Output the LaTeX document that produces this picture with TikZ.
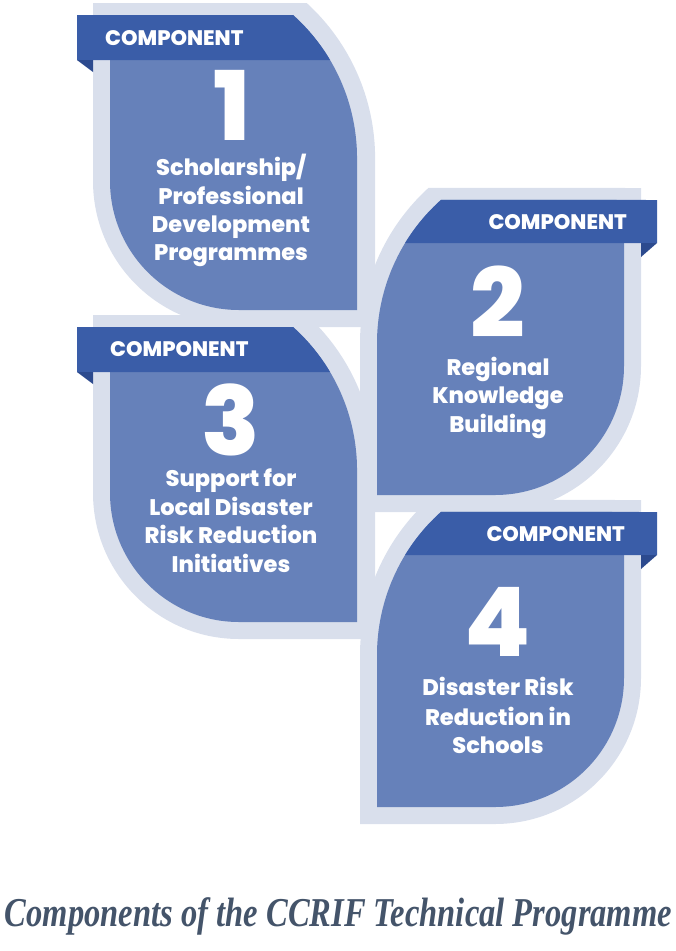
\documentclass[tikz,border=0pt]{standalone}
\usepackage{fontspec}
\usepackage{graphicx}
\setmainfont{Poppins}[BoldFont={Poppins ExtraBold}]
\newfontfamily\capfont{Liberation Serif}
\definecolor{lightc}{HTML}{D9DFEC}
\definecolor{mainc}{HTML}{6681BA}
\definecolor{ribbonc}{HTML}{3A5DA8}
\definecolor{foldc}{HTML}{2C4A8E}
\definecolor{capc}{HTML}{44546A}
\begin{document}
\begin{tikzpicture}[x=1pt,y=-1pt,
  lightshape/.style={fill=lightc},
  mainshape/.style={fill=mainc},
  ribbon/.style={fill=ribbonc},
  foldshape/.style={fill=foldc},
  bantext/.style={text=white,inner sep=0,text height=15pt,text depth=0pt,font=\bfseries\fontsize{21}{22}\selectfont},
  numtext/.style={text=white,inner sep=0,anchor=base,text height=68pt,text depth=0pt,font=\bfseries\fontsize{96}{96}\selectfont},
  bodytext/.style={text=white,inner sep=0,anchor=base,text height=17pt,text depth=5pt,font=\bfseries\fontsize{22.5}{24}\selectfont}]
\useasboundingbox (0,0) rectangle (676,951);
% light backgrounds
\foreach \s in {0,312}{
  \begin{scope}[shift={(0,\s)}]
    \fill[lightshape] (93,3) -- (306.7,3) arc[start angle=-47.6,end angle=0,radius=210]
      -- (375,327) -- (239,327) arc[start angle=90,end angle=180,radius=146] -- cycle;
    \fill[lightshape] (360,512) -- (360,343) arc[start angle=180,end angle=227.6,radius=210]
      -- (641,188) -- (641,366) arc[start angle=0,end angle=90,radius=146] -- cycle;
  \end{scope}
}
% leaves, ribbons, folds
\foreach \s in {0,312}{
  \begin{scope}[shift={(0,\s)}]
    \fill[mainshape] (110,15) -- (293,15) arc[start angle=-48.2,end angle=0,radius=192]
      -- (357,310) -- (239,310) arc[start angle=90,end angle=180,radius=129] -- cycle;
    \fill[ribbon] (77,15) -- (293,15) arc[start angle=-48.2,end angle=-30.7,radius=192]
      -- (77,60) -- cycle;
    \fill[foldshape] (77,60) -- (93,60) -- (93,72) -- cycle;
    \fill[mainshape] (377,495) -- (377,343) arc[start angle=180,end angle=228.2,radius=192]
      -- (624,200) -- (624,366) arc[start angle=0,end angle=90,radius=129] -- cycle;
    \fill[ribbon] (657,243) -- (405.1,243) arc[start angle=211.4,end angle=228.2,radius=192]
      -- (657,200) -- cycle;
    \fill[foldshape] (657,243) -- (641,243) -- (641,257) -- cycle;
  \end{scope}
}
% component 1
\node[bantext,anchor=base west] (b1) at (105,45) {COMPONENT};
\node[numtext] (n1) at (232,140) {1};
\node[bodytext] (t1a) at (231,175) {Scholarship/};
\node[bodytext] (t1b) at (231,204) {Professional};
\node[bodytext] (t1c) at (231,232) {Development};
\node[bodytext] (t1d) at (231,260) {Programmes};
% component 2
\node[bantext,anchor=base east] (b2) at (627,229) {COMPONENT};
\node[numtext] (n2) at (498,337) {2};
\node[bodytext] (t2a) at (498,375) {Regional};
\node[bodytext] (t2b) at (498,403) {Knowledge};
\node[bodytext] (t2c) at (498,432) {Building};
% component 3
\node[bantext,anchor=base west] (b3) at (110,356) {COMPONENT};
\node[numtext] (n3) at (231,455) {3};
\node[bodytext] (t3a) at (231,486) {Support for};
\node[bodytext] (t3b) at (231,515) {Local Disaster};
\node[bodytext] (t3c) at (231,543) {Risk Reduction};
\node[bodytext] (t3d) at (231,572) {Initiatives};
% component 4
\node[bantext,anchor=base east] (b4) at (625,541) {COMPONENT};
\node[numtext] (n4) at (498,656) {4};
\node[bodytext] (t4a) at (498,695) {Disaster Risk};
\node[bodytext] (t4b) at (498,725) {Reduction in};
\node[bodytext] (t4c) at (498,753) {Schools};
% caption
\node[anchor=base,inner sep=0,text=capc] (cap) at (338.5,926)
  {\resizebox{667pt}{\height}{\capfont\bfseries\itshape\fontsize{41}{41}\selectfont Components of the CCRIF Technical Programme}};
\end{tikzpicture}
\end{document}
